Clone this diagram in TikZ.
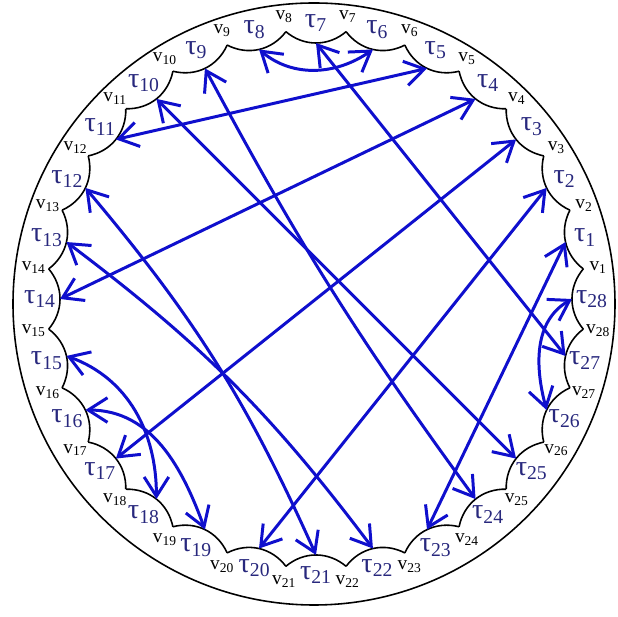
\documentclass[tikz,border=0pt]{standalone}
\usepackage{fontspec}
\setmainfont{Liberation Serif}
\usetikzlibrary{arrows.meta}
\definecolor{linkblue}{RGB}{15,15,205}
\definecolor{taublue}{RGB}{40,40,125}

\begin{document}
\begin{tikzpicture}[x=0.02cm, y=0.02cm,
  vlab/.style={font=\fontsize{11}{11}\selectfont, inner sep=0pt},
  tlab/.style={font=\fontsize{16}{16}\selectfont, text=taublue, inner sep=0pt},
  edge/.style={line width=0.9pt},
  link/.style={draw=linkblue, line width=1.7pt, <->, >={Straight Barb[length=11pt,width=14pt]}}]
\useasboundingbox (-316,-318) rectangle (302,299);
% outer circle
\draw[edge] (-2,-5) circle (301);
% vertices and labels
\foreach \k in {1,...,28} {
  \coordinate (v\k) at ({12.857*(\k-0.5)}:269);
  \node[vlab] (lv\k) at ({12.857*(\k-0.5)}:284) {v\textsubscript{\k}};
  \node[tlab] (lt\k) at ({12.857*\k}:276) {τ\textsubscript{\k}};
}
% scalloped polygon, t = middle of each arc
\foreach \k [remember=\k as \j (initially 28)] in {1,...,28}
  \draw[edge] (v\j) to[bend left=40] node[coordinate, pos=0.5] (t\j) {} (v\k);

% straight links
\foreach \a/\b in {7/27, 5/11, 10/25, 4/14, 3/17, 2/20, 1/23}
  \draw[link] (t\a) -- (t\b);
\draw[link] (t9) to[bend right=4] (t24);
\draw[link] (t12) to[bend left=8] (t21);
\draw[link] (t13) to[bend left=8] (t22);
% curved links
\draw[link] (t8) to[out=-40, in=-145] (t6);
\draw[link] (t28) to[out=210, in=105] (t26);
\draw[link] (t15) to[out=-20, in=90] (t18);
\draw[link] (t16) to[out=0, in=110] (t19);
\end{tikzpicture}
\end{document}
